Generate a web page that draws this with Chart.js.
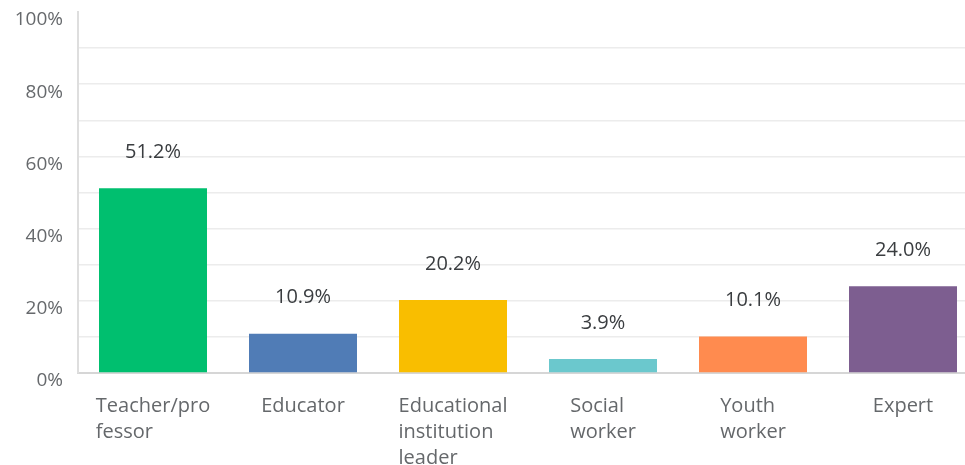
<!DOCTYPE html>
<html>
<head>
<meta charset="utf-8">
<script src="https://cdn.jsdelivr.net/npm/chart.js"></script>
<style>
  html, body { margin: 0; padding: 0; background: #fff; overflow: hidden; }
  #wrap { position: relative; width: 978px; height: 465px; }
</style>
</head>
<body>
<div id="wrap"><canvas id="chart"></canvas></div>
<script>
const CATEGORIES = [
  ['Teacher/pro', 'fessor'],
  ['Educator'],
  ['Educational', 'institution', 'leader'],
  ['Social', 'worker'],
  ['Youth', 'worker'],
  ['Expert']
];
const VALUES = [51.2, 10.9, 20.2, 3.9, 10.1, 24.0];
const BAR_COLORS = ['#00bf6f', '#507cb6', '#f9be00', '#6bc8cd', '#ff8b4f', '#7d5e90'];
const Y_MIN = 0;
const Y_MAX = 100;
const Y_STEP = 10;
const Y_LABEL_EVERY = 20;

const FONT = '"Open Sans", sans-serif';

// value labels above each bar
const valueLabels = {
  id: 'valueLabels',
  afterDatasetsDraw(chart) {
    const { ctx } = chart;
    const meta = chart.getDatasetMeta(0);
    ctx.save();
    ctx.font = `20px ${FONT}`;
    ctx.fillStyle = '#3a3d40';
    ctx.textAlign = 'center';
    ctx.textBaseline = 'middle';
    meta.data.forEach((bar, i) => {
      ctx.fillText(VALUES[i].toFixed(1) + '%', bar.x, bar.y - 36);
    });
    ctx.restore();
  }
};

// category labels: block centred under the bar, lines left-aligned
const categoryLabels = {
  id: 'categoryLabels',
  afterDraw(chart) {
    const { ctx } = chart;
    const x = chart.scales.x;
    const bottom = chart.chartArea.bottom;
    ctx.save();
    ctx.font = `20px ${FONT}`;
    ctx.fillStyle = '#65686b';
    ctx.textAlign = 'left';
    ctx.textBaseline = 'middle';
    CATEGORIES.forEach((lines, i) => {
      const cx = x.getPixelForValue(i);
      const w = Math.max(...lines.map(l => ctx.measureText(l).width));
      lines.forEach((line, j) => {
        ctx.fillText(line, cx - w / 2, bottom + 33 + j * 26);
      });
    });
    ctx.restore();
  }
};

new Chart(document.getElementById('chart'), {
  type: 'bar',
  data: {
    labels: CATEGORIES.map(l => l.join(' ')),
    datasets: [{
      data: VALUES,
      backgroundColor: BAR_COLORS,
      borderWidth: 0,
      categoryPercentage: 1,
      barPercentage: 0.72
    }]
  },
  options: {
    responsive: true,
    maintainAspectRatio: false,
    animation: false,
    layout: { padding: { top: 12, left: 0, right: 0, bottom: 0 } },
    plugins: {
      legend: { display: false },
      tooltip: { enabled: false }
    },
    scales: {
      x: {
        grid: { display: false },
        ticks: { display: false },
        border: { color: '#d6d6d6', width: 2 },
        afterFit: (s) => { s.height = 92; }
      },
      y: {
        min: Y_MIN,
        max: Y_MAX,
        grid: {
          drawTicks: false,
          color: (c) => (c.tick.value === Y_MAX || c.tick.value === Y_MIN) ? 'rgba(0,0,0,0)' : '#ececec',
          lineWidth: 1.5
        },
        border: { color: '#dedede', width: 2 },
        ticks: {
          stepSize: Y_STEP,
          padding: 15,
          labelOffset: 8,
          color: '#66696c',
          font: { family: FONT, size: 19 },
          callback: (v) => v % Y_LABEL_EVERY === 0 ? v + '%' : ''
        },
        afterFit: (s) => { s.width = 78; s.paddingTop = 0; s.paddingBottom = 0; }
      }
    }
  },
  plugins: [valueLabels, categoryLabels]
});
</script>
</body>
</html>
